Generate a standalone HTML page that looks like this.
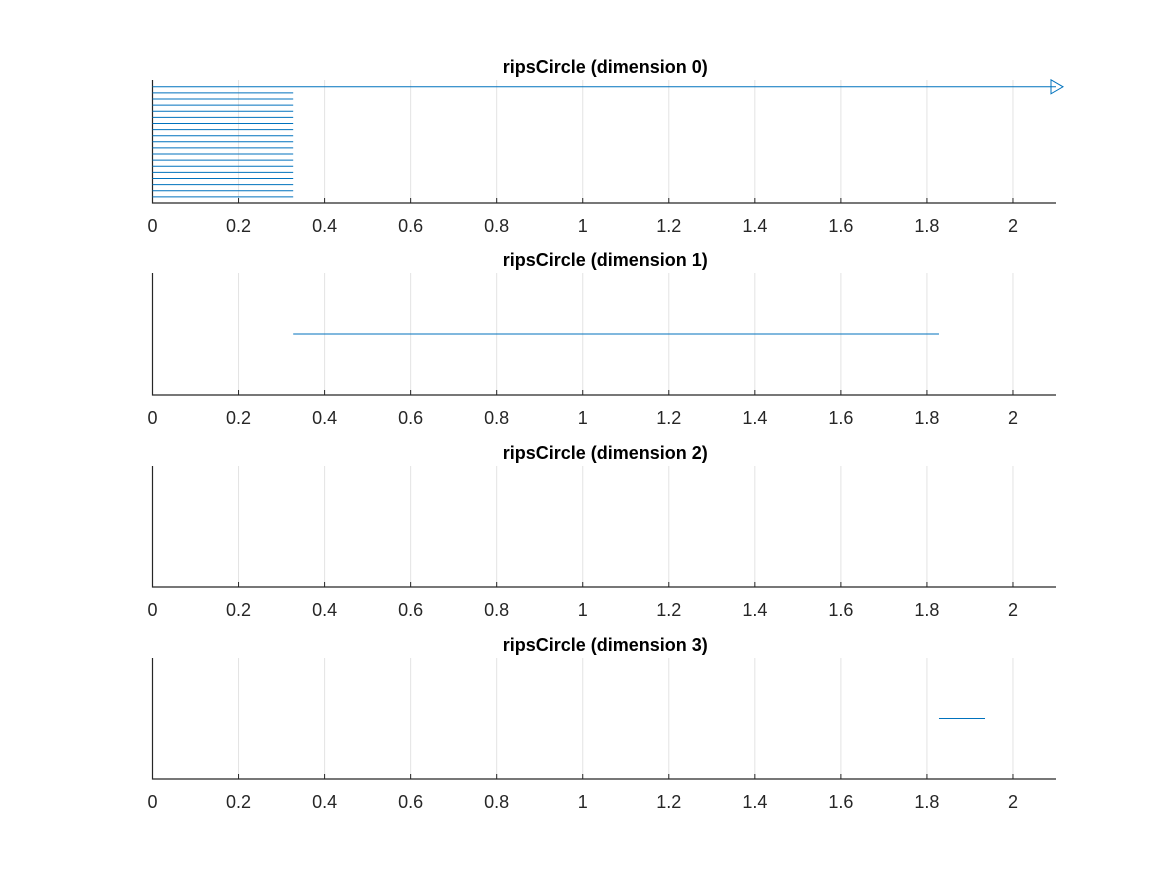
<!DOCTYPE html>
<html><head><meta charset="utf-8"><style>
body{margin:0;background:#fff}
svg text{font-family:"Liberation Sans",sans-serif}
</style></head><body>
<svg id="chart" width="1167" height="875" xmlns="http://www.w3.org/2000/svg"></svg>
<script>
const ticks=[0,0.2,0.4,0.6,0.8,1,1.2,1.4,1.6,1.8,2];
const tickLabels=["0","0.2","0.4","0.6","0.8","1","1.2","1.4","1.6","1.8","2"];
const titles=["ripsCircle (dimension 0)","ripsCircle (dimension 1)","ripsCircle (dimension 2)","ripsCircle (dimension 3)"];
const dim0Births=[0,0,0,0,0,0,0,0,0,0,0,0,0,0,0,0,0,0,0];
const dim0Deaths=[Infinity,0.327,0.327,0.327,0.327,0.327,0.327,0.327,0.327,0.327,0.327,0.327,0.327,0.327,0.327,0.327,0.327,0.327,0.327];
const dim1Births=[0.327];
const dim1Deaths=[1.828];
const dim2Births=[];
const dim2Deaths=[];
const dim3Births=[1.828];
const dim3Deaths=[1.935];
const births=[dim0Births,dim1Births,dim2Births,dim3Births];
const deaths=[dim0Deaths,dim1Deaths,dim2Deaths,dim3Deaths];
const xMax=2.1;
const NS="http://www.w3.org/2000/svg";
const svg=document.getElementById('chart');
function mk(t,a,p){const e=document.createElementNS(NS,t);for(const k in a)e.setAttribute(k,a[k]);(p||svg).appendChild(e);return e;}
const L=152.5,R=1056;
const xs=v=>L+(v/xMax)*(R-L);
const tops=[80,273,466,658],bots=[203,395,587,779];
for(let p=0;p<4;p++){
  const g=mk('g',{});
  
  
  const top=tops[p],bot=bots[p];
  ticks.forEach((t,i)=>{
    const x=xs(t);
    if(i>0){const gl=mk('line',{x1:x,x2:x,y1:top,y2:bot,stroke:'#e3e3e3','stroke-width':1},g);
    
    }
    const tk=mk('line',{x1:x,x2:x,y1:bot,y2:bot-5,stroke:'#262626','stroke-width':1},g);
    
    
    const tl=mk('text',{x:x,y:bot+29,'text-anchor':'middle','font-size':18,fill:'#262626'},g);
    tl.textContent=tickLabels[i];
    
    
  });
  const ax=mk('path',{d:`M${L},${top} L${L},${bot} L${R},${bot}`,fill:'none',stroke:'#262626','stroke-width':1.2},g);
  
  
  const tt=mk('text',{x:(L+R)/2+1,y:top-7,'text-anchor':'middle','font-size':18,'font-weight':'bold',fill:'#000'},g);
  tt.textContent=titles[p];
  
  
  const n=births[p].length;
  const h=bot-top;
  births[p].forEach((b,i)=>{
    // bars distributed from top to bottom by index
    const y=n>1? top+h*0.055+i*(h*0.895/(n-1)) : top+h/2;
    const d=deaths[p][i];
    const x2=isFinite(d)?xs(d):R;
    const ln=mk('line',{x1:xs(b),x2:x2,y1:y,y2:y,stroke:'#0072bd','stroke-width':1},g);
    
    
    if(!isFinite(d)){
      const ar=mk('path',{d:`M${R-5},${y-7} L${R+7},${y} L${R-5},${y+7} Z`,fill:'none',stroke:'#0072bd','stroke-width':1},g);
      
      
    }
  });
}
</script>
</body></html>
